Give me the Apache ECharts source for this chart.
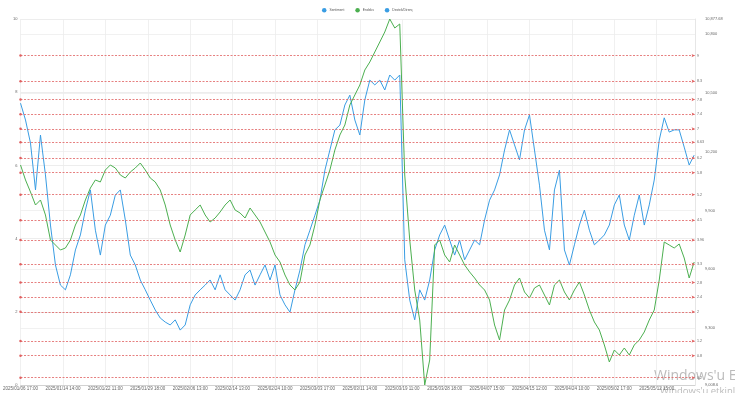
<!DOCTYPE html>
<html>
<head>
<meta charset="utf-8">
<script src="https://cdn.jsdelivr.net/npm/echarts@6/dist/echarts.min.js"></script>
<style>html,body{margin:0;padding:0;background:#fff}#c{width:735px;height:393px}</style>
</head>
<body>
<div id="c"></div>
<script>
// ---- data ----
const N = 812;          // hourly categories
const STEP = 6;         // sampled every 6 categories
const LABEL_EVERY = 51;
const tickLabels = ["2025/01/06 17:00","2025/01/14 14:00","2025/01/22 11:00","2025/01/29 18:00","2025/02/06 13:00","2025/02/14 13:00","2025/02/24 10:00","2025/03/03 17:00","2025/03/11 14:00","2025/03/19 11:00","2025/03/28 18:00","2025/04/07 15:00","2025/04/15 12:00","2025/04/24 10:00","2025/05/02 17:00","2025/05/12 15:00"];
const sentiment = [
7.70,7.24,6.61,5.33,6.83,5.74,4.37,3.28,2.73,2.60,
3.01,3.69,4.10,4.78,5.33,4.23,3.55,4.37,4.64,5.19,
5.33,4.51,3.55,3.28,2.87,2.60,2.32,2.05,1.83,1.72,
1.64,1.78,1.50,1.64,2.19,2.46,2.60,2.73,2.87,2.60,
3.01,2.60,2.46,2.32,2.60,3.01,3.14,2.73,3.01,3.28,
2.87,3.28,2.46,2.19,1.99,2.60,3.14,3.83,4.23,4.64,
5.05,5.87,6.42,6.97,7.10,7.65,7.92,7.24,6.83,7.79,
8.33,8.20,8.33,8.06,8.47,8.33,8.47,3.42,2.32,1.78,
2.60,2.32,2.87,3.69,4.10,4.37,3.96,3.55,3.96,3.42,
3.69,3.96,3.83,4.51,5.05,5.33,5.74,6.42,6.97,6.56,
6.15,6.97,7.38,6.42,5.46,4.23,3.69,5.33,5.87,3.69,
3.28,3.83,4.37,4.78,4.23,3.83,3.96,4.10,4.37,4.92,
5.19,4.37,3.96,4.64,5.19,4.37,4.92,5.60,6.69,7.30,
6.91,6.97,6.97,6.50,6.01,6.28];
const endeks = [
10132.1,10055.5,9994.2,9927.8,9953.4,9876.8,9749.1,9723.6,9698.0,9708.2,
9749.1,9825.7,9876.8,9953.4,10014.6,10055.5,10045.3,10106.6,10132.1,10116.8,
10081.0,10065.7,10096.3,10116.8,10142.3,10106.6,10065.7,10045.3,10004.4,9927.8,
9825.7,9749.1,9687.8,9774.6,9876.8,9902.3,9927.8,9876.8,9841.0,9861.4,
9892.1,9927.8,9953.4,9902.3,9887.0,9861.4,9912.5,9876.8,9841.0,9789.9,
9738.9,9672.5,9636.7,9570.3,9519.3,9493.7,9534.6,9672.5,9723.6,9825.7,
9953.4,10030.0,10106.6,10208.7,10285.3,10336.4,10438.5,10489.6,10540.6,10617.2,
10658.1,10709.2,10760.2,10811.3,10877.68,10831.7,10852.2,10081.0,9749.1,9493.7,
9340.5,9008.6,9136.3,9723.6,9749.1,9672.5,9636.7,9723.6,9672.5,9621.4,
9585.7,9555.0,9519.3,9493.7,9442.7,9315.0,9238.4,9391.6,9442.7,9519.3,
9555.0,9483.5,9452.9,9504.0,9519.3,9468.2,9417.1,9519.3,9544.8,9483.5,
9442.7,9493.7,9534.6,9468.2,9391.6,9330.3,9289.5,9212.9,9126.1,9187.3,
9161.8,9197.6,9161.8,9212.9,9238.4,9279.3,9340.5,9391.6,9544.8,9738.9,
9723.6,9708.2,9728.7,9657.2,9555.0,9636.7];
const levels = [9, 8.3, 7.8, 7.4, 7, 6.63, 6.2, 5.8, 5.2, 4.5, 3.96, 3.3, 2.8, 2.4, 2, 1.2, 0.8, 0.2];
const endeksMin = 9008.6, endeksMax = 10877.68;

// ---- chart ----
const BLUE = '#3a9de3', GREEN = '#4caf50', RED = '#e06060';
const categories = Array.from({length: N}, (_, i) => 'h' + i);
const FONT = 'Liberation Sans';
const chart = echarts.init(document.getElementById('c'));
chart.setOption({
  animation: false,
  textStyle: {fontFamily: FONT},
  legend: {
    top: 3, left: 'center', icon: 'circle', itemWidth: 4.5, itemHeight: 4.5, itemGap: 11,
    textStyle: {fontSize: 3.3, color: '#555', fontFamily: FONT, padding: [0, 0, 0, -2]},
    data: ['Sentiment', 'Endeks', 'Destek/Direnç']
  },
  grid: {left: 17, right: 40, top: 19, bottom: 8, containLabel: false},
  xAxis: {
    type: 'category', data: categories, boundaryGap: false,
    axisLine: {lineStyle: {color: '#ccc', width: 0.8}},
    axisTick: {show: false},
    axisLabel: {
      interval: LABEL_EVERY - 1, margin: 1.5, fontSize: 4.5, color: '#666', fontFamily: FONT,
      formatter: (v, i) => (i % LABEL_EVERY === 0 ? (tickLabels[i / LABEL_EVERY] || '') : '')
    },
    splitLine: {show: true, interval: LABEL_EVERY - 1, lineStyle: {color: '#ececec', width: 0.8}}
  },
  yAxis: [{
    type: 'value', min: 0, max: 10, interval: 2, position: 'left',
    axisLine: {show: false}, axisTick: {show: false},
    axisLabel: {fontSize: 4, color: '#666', margin: 3, fontFamily: FONT},
    splitLine: {lineStyle: {color: '#e8e8e8', width: 0.8}}
  }, {
    type: 'value', min: endeksMin, max: endeksMax, splitNumber: 6, position: 'right',
    axisLine: {show: true, lineStyle: {color: '#e0e0e0', width: 0.8}}, axisTick: {show: false},
    axisLabel: {fontSize: 4, color: '#666', margin: 10, fontFamily: FONT},
    splitLine: {lineStyle: {color: '#eeeeee', width: 0.8}}
  }],
  series: [{
    name: 'Sentiment', type: 'line', yAxisIndex: 0, showSymbol: false, symbol: 'none',
    data: sentiment.map((v, k) => [k * STEP, v]),
    lineStyle: {width: 1, color: BLUE}, itemStyle: {color: BLUE}
  }, {
    name: 'Endeks', type: 'line', yAxisIndex: 1, showSymbol: false, symbol: 'none',
    data: endeks.map((v, k) => [k * STEP, v]),
    lineStyle: {width: 1, color: GREEN}, itemStyle: {color: GREEN}
  }, {
    name: 'Destek/Direnç', type: 'line', yAxisIndex: 0, showSymbol: false, symbol: 'none',
    data: [],
    itemStyle: {color: BLUE}, lineStyle: {color: BLUE},
    markLine: {
      silent: true, symbol: ['circle', 'arrow'], symbolSize: [2.5, 3.5],
      lineStyle: {color: RED, type: [2, 1.5], width: 0.8},
      label: {position: 'end', fontSize: 3.6, color: '#666', distance: 2, fontFamily: FONT,
              formatter: p => String(p.value)},
      data: levels.map(v => ({yAxis: v}))
    }
  }],
  graphic: [
    {type: 'text', left: 654, top: 369, silent: true,
     style: {text: "Windows'u Etkinleştir", fontSize: 14, fontFamily: 'Open Sans', fill: 'rgba(120,120,120,0.5)'}},
    {type: 'text', left: 660, top: 386, silent: true,
     style: {text: "Windows'u etkinleştirmek için Ayarlar'a gidin.", fontSize: 9.5, fontFamily: 'Open Sans', fill: 'rgba(120,120,120,0.5)'}}
  ]
});
</script>
</body>
</html>
